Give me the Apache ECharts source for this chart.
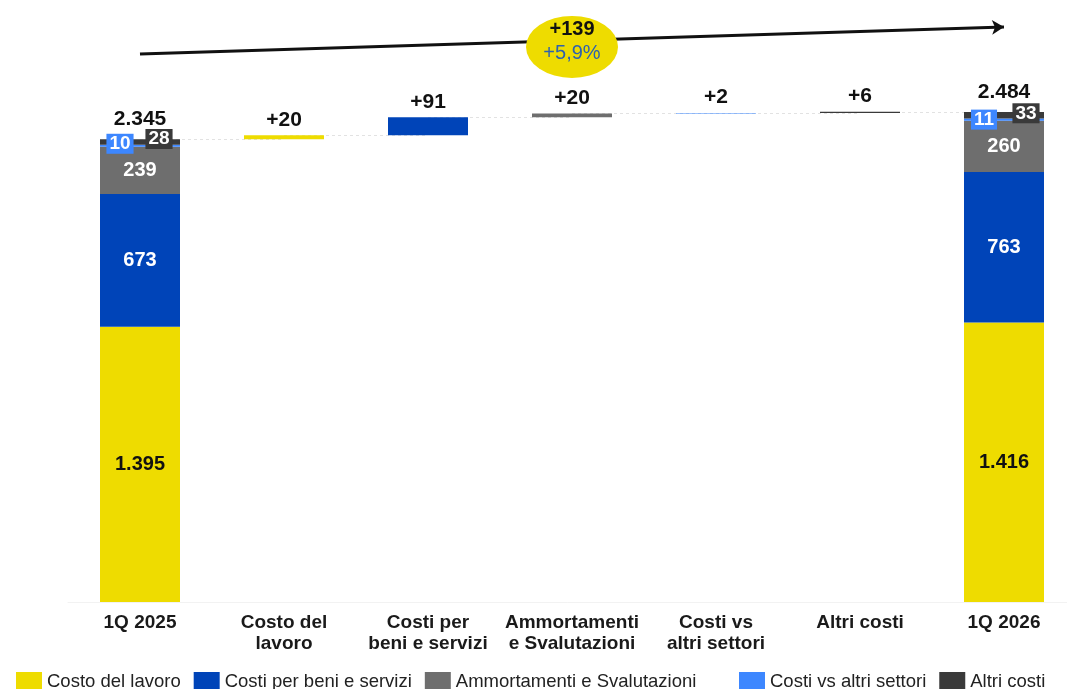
<!DOCTYPE html>
<html>
<head>
<meta charset="utf-8">
<script src="https://cdn.jsdelivr.net/npm/echarts@6/dist/echarts.min.js"></script>
<style>
html,body{margin:0;padding:0;background:#fff;}
#chart{width:1067px;height:689px;}
</style>
</head>
<body>
<div id="chart"></div>
<script>
const categories = ['1Q 2025','Costo del\nlavoro','Costi per\nbeni e servizi','Ammortamenti\ne Svalutazioni','Costi vs\naltri settori','Altri costi','1Q 2026'];
const seriesNames = ['Costo del lavoro','Costi per beni e servizi','Ammortamenti e Svalutazioni','Costi vs altri settori','Altri costi'];
const colors = ['#EEDC00','#0044B8','#6E6E6E','#3D87FF','#3A3A3A'];
const start2025 = [1395, 673, 239, 10, 28];
const end2026 = [1416, 763, 260, 11, 33];
const deltas = [20, 91, 20, 2, 6];
const deltaLabels = ['+20','+91','+20','+2','+6'];
const totals = [2345, 2484];
const totalChange = '+139';
const totalChangePct = '+5,9%';
const arrowY = [2777, 2914];
const badgeY = 2813;

const FONT = '"Liberation Sans", Arial, sans-serif';
const fmt = n => String(n).replace(/\B(?=(\d{3})+(?!\d))/g, '.');

// invisible base for floating bars
const base = categories.map(() => '-');
let run = totals[0];
deltas.forEach((d, i) => { base[i + 1] = run; run += d; });

const compLabel = [
  { show: true, position: 'inside', color: '#111', fontWeight: 'bold', fontSize: 20 },
  { show: true, position: 'inside', color: '#fff', fontWeight: 'bold', fontSize: 20 },
  { show: true, position: 'inside', color: '#fff', fontWeight: 'bold', fontSize: 20 },
  null,
  null
];
const boxOffsets2025 = [null, null, null, [-20, -2], [19, -3]];
const boxOffsets2026 = [null, null, null, [-20, 0], [22, -2]];

function boxLabel(i, off) {
  return { show: true, position: 'inside', offset: off, color: '#fff', fontWeight: 'bold', fontSize: 19,
    backgroundColor: colors[i], padding: [1, 3, 0, 3], lineHeight: 19, fontFamily: FONT };
}

const series = [{
  name: '_base', type: 'bar', stack: 'w', barWidth: 80, silent: true, z: 1,
  itemStyle: { color: 'transparent' }, data: base,
  markLine: {
    silent: true, symbol: ['none', 'none'], label: { show: false }, z: 1,
    lineStyle: { type: [3, 3], color: '#e2e2e2', width: 1 },
    data: (() => {
      const lv = [totals[0]];
      let r = totals[0];
      deltas.forEach(d => { r += d; lv.push(r); });
      lv[lv.length - 1] = totals[1];
      const out = [];
      for (let k = 0; k < 6; k++) out.push([{ coord: [k, lv[k]] }, { coord: [k + 1, lv[k]] }]);
      return out;
    })()
  }
}];

seriesNames.forEach((name, i) => {
  const data = categories.map((c, j) => {
    if (j === 0 || j === 6) {
      const v = j === 0 ? start2025[i] : end2026[i];
      const lab = compLabel[i]
        ? Object.assign({ fontFamily: FONT, formatter: p => fmt(p.value) }, compLabel[i])
        : Object.assign(boxLabel(i, j === 0 ? boxOffsets2025[i] : boxOffsets2026[i]), { formatter: p => fmt(p.value) });
      return { value: v, label: lab };
    }
    if (j === i + 1) {
      return { value: deltas[i], label: { show: true, position: 'top', distance: 5, color: '#111', fontWeight: 'bold', fontSize: 21, fontFamily: FONT, formatter: () => deltaLabels[i] } };
    }
    return '-';
  });
  series.push({ name, type: 'bar', stack: 'w', barWidth: 80, itemStyle: { color: colors[i] }, data, z: 3 });
});

// total labels
series.push({
  type: 'scatter', symbolSize: 1, silent: true, z: 6,
  itemStyle: { opacity: 0 },
  data: [[0, totals[0]], [6, totals[1]]],
  label: { show: true, opacity: 1, position: 'top', distance: 9, color: '#111', fontWeight: 'bold', fontSize: 21, fontFamily: FONT, formatter: p => fmt(p.value[1]) }
});

// arrow
series.push({
  type: 'line', data: [], silent: true, z: 2,
  markLine: {
    silent: true, symbol: ['none', 'arrow'], symbolSize: [11, 12], label: { show: false },
    lineStyle: { type: 'solid', color: '#111', width: 3 },
    data: [[{ coord: [0, arrowY[0]] }, { coord: [6, arrowY[1]] }]]
  }
});

// badge
series.push({
  type: 'scatter', silent: true, z: 20, symbol: 'circle', symbolSize: [92, 62],
  itemStyle: { color: '#EEDC00', opacity: 1 },
  data: [[3, badgeY]],
  label: {
    show: true, position: 'inside', fontFamily: FONT, offset: [0, -5],
    formatter: () => '{a|' + totalChange + '}\n{b|' + totalChangePct + '}',
    rich: {
      a: { fontSize: 20, fontWeight: 'bold', color: '#111', lineHeight: 24, fontFamily: FONT },
      b: { fontSize: 20, color: '#2E62AE', lineHeight: 24, fontFamily: FONT }
    }
  }
});

const legendCommon = {
  top: 667, icon: 'rect', itemWidth: 26, itemHeight: 20, itemGap: 13, selectedMode: false,
  textStyle: { fontSize: 18.5, color: '#222', fontFamily: FONT }
};

const chart = echarts.init(document.getElementById('chart'), null, { renderer: 'canvas' });
chart.setOption({
  animation: false,
  backgroundColor: '#fff',
  textStyle: { fontFamily: FONT },
  grid: { left: 68, width: 1008, top: 10, height: 592, containLabel: false, outerBoundsMode: 'none' },
  legend: [
    Object.assign({ data: seriesNames.slice(0, 3), left: 11 }, legendCommon),
    Object.assign({ data: seriesNames.slice(3), left: 734 }, legendCommon)
  ],
  xAxis: {
    type: 'category', data: categories,
    axisLine: { show: true, lineStyle: { color: '#f2f2f2' } },
    axisTick: { show: false },
    axisLabel: { interval: 0, margin: 10, fontSize: 19, fontWeight: 'bold', color: '#1a1a1a', lineHeight: 21, fontFamily: FONT }
  },
  yAxis: { type: 'value', min: 0, max: 3000, show: false, splitLine: { show: false } },
  series
});
</script>
</body>
</html>
